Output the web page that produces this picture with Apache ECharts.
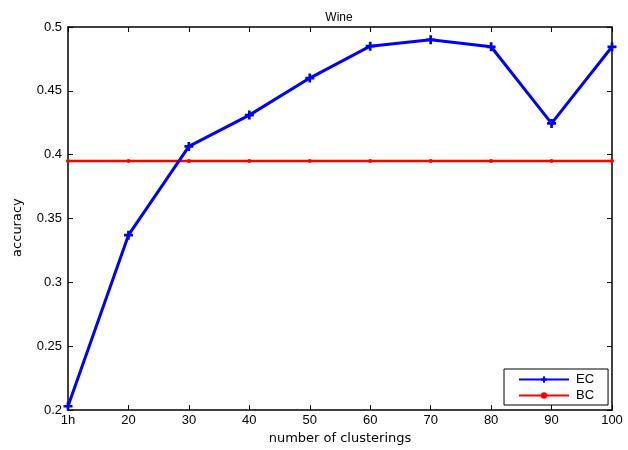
<!DOCTYPE html>
<html>
<head>
<meta charset="utf-8">
<script src="https://cdn.jsdelivr.net/npm/echarts@6/dist/echarts.min.js"></script>
<style>html,body{margin:0;padding:0;background:#fff;}#c{width:628px;height:450px;}</style>
</head>
<body>
<div id="c"></div>
<script>
const categories = ['1h','20','30','40','50','60','70','80','90','100'];
const ecValues = [0.203, 0.337, 0.4065, 0.431, 0.460, 0.485, 0.490, 0.4845, 0.4245, 0.4845];
const bcValues = [0.395, 0.395, 0.395, 0.395, 0.395, 0.395, 0.395, 0.395, 0.395, 0.395];
const yTicks = [0.2, 0.25, 0.3, 0.35, 0.4, 0.45, 0.5];

const font = 'Liberation Sans, Arial, Helvetica, sans-serif';
const wide = 'DejaVu Sans, Verdana, sans-serif';
const plus = 'path://M-1.2,-4H1.2V-1.2H4V1.2H1.2V4H-1.2V1.2H-4V-1.2H-1.2Z';
const chart = echarts.init(document.getElementById('c'), null, {renderer:'canvas'});
const axisCommon = {
  axisLine:{show:true, lineStyle:{color:'#000', width:1.5}},
  axisTick:{show:true, inside:true, length:5, lineStyle:{color:'#000'}},
  splitLine:{show:false}
};
chart.setOption({
  animation:false,
  backgroundColor:'#fff',
  title:{text:'Wine', left:334, top:7, textAlign:'center', textStyle:{fontFamily:font, fontSize:12, fontWeight:'normal', color:'#000'}},
  grid:{left:68, right:16, top:27, bottom:35},
  legend:{
    orient:'vertical', left:504, top:369,
    padding:[4,14,3,14], itemGap:3, itemWidth:50, itemHeight:8,
    borderColor:'#000', borderWidth:1, backgroundColor:'#fff',
    textStyle:{fontFamily:font, fontSize:13, color:'#000', padding:[0,0,0,2]},
    data:['EC','BC']
  },
  xAxis:[
    Object.assign({type:'category', data:categories, boundaryGap:false, position:'bottom',
      name:'number of clusterings', nameLocation:'middle', nameGap:21,
      nameTextStyle:{fontFamily:wide, fontSize:13, color:'#000'},
      axisLabel:{fontFamily:font, fontSize:13, color:'#000', margin:4, interval:0}}, axisCommon),
    Object.assign({type:'category', data:categories, boundaryGap:false, position:'top',
      axisLabel:{show:false}}, axisCommon)
  ],
  yAxis:[
    Object.assign({type:'value', min:0.2, max:0.5, interval:0.05, position:'left',
      name:'accuracy', nameLocation:'middle', nameGap:44,
      nameTextStyle:{fontFamily:wide, fontSize:13, color:'#000', padding:[0,18,0,0]},
      axisLabel:{fontFamily:font, fontSize:13, color:'#000', margin:6,
        formatter: v => String(+v.toFixed(2))}}, axisCommon),
    Object.assign({type:'value', min:0.2, max:0.5, interval:0.05, position:'right',
      axisLabel:{show:false}}, axisCommon)
  ],
  series:[
    {name:'EC', type:'line', data:ecValues, xAxisIndex:0, yAxisIndex:0,
      symbol:plus, symbolSize:9, showAllSymbol:true,
      lineStyle:{color:'#0000ff', width:3}, itemStyle:{color:'#0000ff'}, z:3},
    {name:'BC', type:'line', data:bcValues, xAxisIndex:0, yAxisIndex:0,
      symbol:'circle', symbolSize:4, showAllSymbol:true,
      lineStyle:{color:'#ff0000', width:2.5}, itemStyle:{color:'#ff0000'}, z:2}
  ]
});
</script>
</body>
</html>
